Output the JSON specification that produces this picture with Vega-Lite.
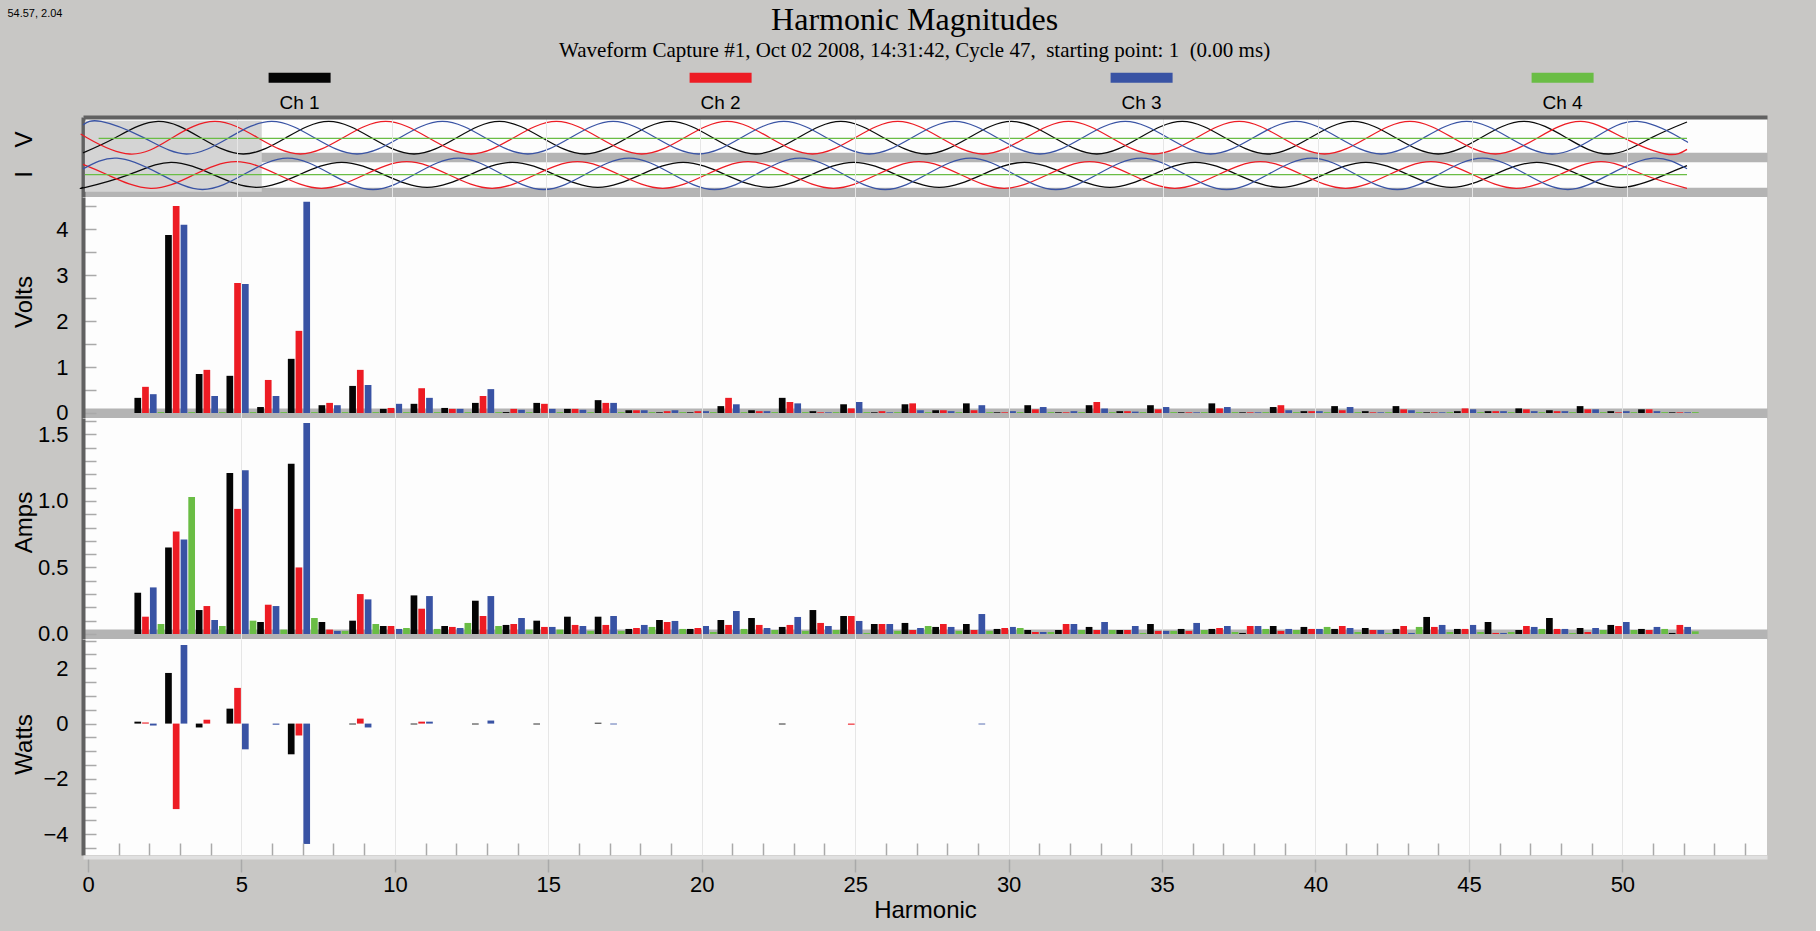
{
"$schema": "https://vega.github.io/schema/vega-lite/v6.json",
"background": "#c8c7c5",
"padding": {"left": 6, "top": 4, "right": 49, "bottom": 20},
"title": {"text": "Harmonic Magnitudes", "subtitle": "Waveform Capture #1, Oct 02 2008, 14:31:42, Cycle 47,\u00a0 starting point: 1\u00a0 (0.00 ms)", "anchor": "middle", "frame": "group", "font": "Liberation Serif", "fontSize": 32, "fontWeight": "normal", "color": "#000", "subtitleFont": "Liberation Serif", "subtitleFontSize": 21, "subtitleColor": "#000", "subtitlePadding": 3, "offset": -55.4, "dx": -10.4},
"datasets": {
"harm": [
{"h":2,"V1":0.33,"V2":0.57,"V3":0.41,"V4":0.02,"A1":0.31,"A2":0.13,"A3":0.35,"A4":0.075,"W1":0.07,"W2":0.04,"W3":-0.07},
{"h":3,"V1":3.88,"V2":4.51,"V3":4.10,"V4":0.02,"A1":0.65,"A2":0.77,"A3":0.71,"A4":1.03,"W1":1.83,"W2":-3.09,"W3":2.84},
{"h":4,"V1":0.85,"V2":0.94,"V3":0.37,"V4":0.02,"A1":0.18,"A2":0.21,"A3":0.105,"A4":0.06,"W1":-0.14,"W2":0.14,"W3":0},
{"h":5,"V1":0.81,"V2":2.83,"V3":2.81,"V4":0.02,"A1":1.21,"A2":0.94,"A3":1.23,"A4":0.10,"W1":0.54,"W2":1.29,"W3":-0.93},
{"h":6,"V1":0.13,"V2":0.72,"V3":0.37,"V4":0.02,"A1":0.09,"A2":0.22,"A3":0.21,"A4":0.033,"W1":0,"W2":0,"W3":-0.04},
{"h":7,"V1":1.18,"V2":1.79,"V3":4.60,"V4":0.02,"A1":1.28,"A2":0.50,"A3":1.585,"A4":0.12,"W1":-1.11,"W2":-0.43,"W3":-4.35},
{"h":8,"V1":0.17,"V2":0.22,"V3":0.17,"V4":0.02,"A1":0.09,"A2":0.033,"A3":0.023,"A4":0.023,"W1":0,"W2":0,"W3":0},
{"h":9,"V1":0.59,"V2":0.94,"V3":0.61,"V4":0.02,"A1":0.10,"A2":0.30,"A3":0.26,"A4":0.075,"W1":-0.03,"W2":0.18,"W3":-0.14},
{"h":10,"V1":0.09,"V2":0.11,"V3":0.20,"V4":0.02,"A1":0.06,"A2":0.06,"A3":0.038,"A4":0.045,"W1":0,"W2":0,"W3":0},
{"h":11,"V1":0.20,"V2":0.54,"V3":0.33,"V4":0.02,"A1":0.29,"A2":0.19,"A3":0.285,"A4":0.038,"W1":-0.03,"W2":0.07,"W3":0.07},
{"h":12,"V1":0.11,"V2":0.09,"V3":0.09,"V4":0.02,"A1":0.06,"A2":0.053,"A3":0.045,"A4":0.083,"W1":0,"W2":0,"W3":0},
{"h":13,"V1":0.22,"V2":0.37,"V3":0.52,"V4":0.02,"A1":0.25,"A2":0.135,"A3":0.285,"A4":0.06,"W1":-0.03,"W2":0,"W3":0.11},
{"h":14,"V1":0.02,"V2":0.09,"V3":0.07,"V4":0.02,"A1":0.068,"A2":0.075,"A3":0.12,"A4":0.033,"W1":0,"W2":0,"W3":0},
{"h":15,"V1":0.22,"V2":0.20,"V3":0.09,"V4":0.02,"A1":0.10,"A2":0.053,"A3":0.053,"A4":0.033,"W1":-0.03,"W2":0,"W3":0},
{"h":16,"V1":0.09,"V2":0.09,"V3":0.07,"V4":0.02,"A1":0.13,"A2":0.068,"A3":0.06,"A4":0.023,"W1":0,"W2":0,"W3":0},
{"h":17,"V1":0.28,"V2":0.22,"V3":0.22,"V4":0.02,"A1":0.13,"A2":0.068,"A3":0.135,"A4":0.023,"W1":0.03,"W2":0,"W3":-0.03},
{"h":18,"V1":0.06,"V2":0.06,"V3":0.06,"V4":0.02,"A1":0.038,"A2":0.045,"A3":0.068,"A4":0.053,"W1":0,"W2":0,"W3":0},
{"h":19,"V1":0.015,"V2":0.04,"V3":0.06,"V4":0.02,"A1":0.105,"A2":0.09,"A3":0.098,"A4":0.038,"W1":0,"W2":0,"W3":0},
{"h":20,"V1":0.015,"V2":0.04,"V3":0.04,"V4":0.02,"A1":0.038,"A2":0.045,"A3":0.06,"A4":0.015,"W1":0,"W2":0,"W3":0},
{"h":21,"V1":0.15,"V2":0.33,"V3":0.19,"V4":0.02,"A1":0.105,"A2":0.068,"A3":0.173,"A4":0.038,"W1":0,"W2":0,"W3":0},
{"h":22,"V1":0.06,"V2":0.04,"V3":0.04,"V4":0.02,"A1":0.12,"A2":0.068,"A3":0.045,"A4":0.03,"W1":0,"W2":0,"W3":0},
{"h":23,"V1":0.33,"V2":0.24,"V3":0.21,"V4":0.02,"A1":0.053,"A2":0.068,"A3":0.128,"A4":0.023,"W1":-0.03,"W2":0,"W3":0},
{"h":24,"V1":0.04,"V2":0.015,"V3":0.015,"V4":0.02,"A1":0.18,"A2":0.083,"A3":0.06,"A4":0.03,"W1":0,"W2":0,"W3":0},
{"h":25,"V1":0.19,"V2":0.10,"V3":0.24,"V4":0.02,"A1":0.135,"A2":0.135,"A3":0.098,"A4":0.008,"W1":0,"W2":-0.04,"W3":0},
{"h":26,"V1":0.015,"V2":0.04,"V3":0.015,"V4":0.02,"A1":0.075,"A2":0.075,"A3":0.075,"A4":0.023,"W1":0,"W2":0,"W3":0},
{"h":27,"V1":0.19,"V2":0.21,"V3":0.06,"V4":0.02,"A1":0.083,"A2":0.03,"A3":0.045,"A4":0.06,"W1":0,"W2":0,"W3":0},
{"h":28,"V1":0.06,"V2":0.06,"V3":0.04,"V4":0.02,"A1":0.053,"A2":0.075,"A3":0.053,"A4":0.023,"W1":0,"W2":0,"W3":0},
{"h":29,"V1":0.21,"V2":0.06,"V3":0.17,"V4":0.02,"A1":0.075,"A2":0.03,"A3":0.15,"A4":0.023,"W1":0,"W2":0,"W3":-0.03},
{"h":30,"V1":0.015,"V2":0.015,"V3":0.04,"V4":0.02,"A1":0.038,"A2":0.045,"A3":0.053,"A4":0.045,"W1":0,"W2":0,"W3":0},
{"h":31,"V1":0.17,"V2":0.08,"V3":0.13,"V4":0.02,"A1":0.03,"A2":0.015,"A3":0.015,"A4":0.015,"W1":0,"W2":0,"W3":0},
{"h":32,"V1":0.015,"V2":0.015,"V3":0.04,"V4":0.02,"A1":0.03,"A2":0.075,"A3":0.075,"A4":0.03,"W1":0,"W2":0,"W3":0},
{"h":33,"V1":0.17,"V2":0.24,"V3":0.10,"V4":0.02,"A1":0.053,"A2":0.03,"A3":0.09,"A4":0.03,"W1":0,"W2":0,"W3":0},
{"h":34,"V1":0.04,"V2":0.04,"V3":0.03,"V4":0.02,"A1":0.03,"A2":0.03,"A3":0.06,"A4":0.008,"W1":0,"W2":0,"W3":0},
{"h":35,"V1":0.17,"V2":0.08,"V3":0.13,"V4":0.02,"A1":0.075,"A2":0.023,"A3":0.023,"A4":0.023,"W1":0,"W2":0,"W3":0},
{"h":36,"V1":0.015,"V2":0.015,"V3":0.015,"V4":0.02,"A1":0.038,"A2":0.023,"A3":0.083,"A4":0.03,"W1":0,"W2":0,"W3":0},
{"h":37,"V1":0.21,"V2":0.10,"V3":0.13,"V4":0.02,"A1":0.038,"A2":0.045,"A3":0.06,"A4":0.015,"W1":0,"W2":0,"W3":0},
{"h":38,"V1":0.015,"V2":0.015,"V3":0.015,"V4":0.02,"A1":0.008,"A2":0.06,"A3":0.06,"A4":0.038,"W1":0,"W2":0,"W3":0},
{"h":39,"V1":0.13,"V2":0.17,"V3":0.06,"V4":0.02,"A1":0.06,"A2":0.023,"A3":0.038,"A4":0.03,"W1":0,"W2":0,"W3":0},
{"h":40,"V1":0.04,"V2":0.04,"V3":0.04,"V4":0.02,"A1":0.053,"A2":0.038,"A3":0.038,"A4":0.053,"W1":0,"W2":0,"W3":0},
{"h":41,"V1":0.15,"V2":0.06,"V3":0.13,"V4":0.02,"A1":0.038,"A2":0.06,"A3":0.045,"A4":0.015,"W1":0,"W2":0,"W3":0},
{"h":42,"V1":0.04,"V2":0.015,"V3":0.015,"V4":0.02,"A1":0.045,"A2":0.03,"A3":0.03,"A4":0.008,"W1":0,"W2":0,"W3":0},
{"h":43,"V1":0.15,"V2":0.08,"V3":0.06,"V4":0.02,"A1":0.038,"A2":0.06,"A3":0.008,"A4":0.053,"W1":0,"W2":0,"W3":0},
{"h":44,"V1":0.015,"V2":0.015,"V3":0.015,"V4":0.02,"A1":0.128,"A2":0.053,"A3":0.068,"A4":0.015,"W1":0,"W2":0,"W3":0},
{"h":45,"V1":0.04,"V2":0.10,"V3":0.08,"V4":0.02,"A1":0.038,"A2":0.038,"A3":0.068,"A4":0.015,"W1":0,"W2":0,"W3":0},
{"h":46,"V1":0.04,"V2":0.04,"V3":0.04,"V4":0.02,"A1":0.09,"A2":0.008,"A3":0.008,"A4":0.015,"W1":0,"W2":0,"W3":0},
{"h":47,"V1":0.10,"V2":0.08,"V3":0.04,"V4":0.02,"A1":0.03,"A2":0.06,"A3":0.053,"A4":0.038,"W1":0,"W2":0,"W3":0},
{"h":48,"V1":0.06,"V2":0.04,"V3":0.04,"V4":0.02,"A1":0.12,"A2":0.038,"A3":0.038,"A4":0.008,"W1":0,"W2":0,"W3":0},
{"h":49,"V1":0.15,"V2":0.08,"V3":0.08,"V4":0.02,"A1":0.045,"A2":0.015,"A3":0.045,"A4":0.03,"W1":0,"W2":0,"W3":0},
{"h":50,"V1":0.04,"V2":0.015,"V3":0.04,"V4":0.02,"A1":0.068,"A2":0.06,"A3":0.09,"A4":0.03,"W1":0,"W2":0,"W3":0},
{"h":51,"V1":0.08,"V2":0.08,"V3":0.04,"V4":0.02,"A1":0.038,"A2":0.03,"A3":0.053,"A4":0.038,"W1":0,"W2":0,"W3":0},
{"h":52,"V1":0.015,"V2":0.015,"V3":0.015,"V4":0.02,"A1":0.008,"A2":0.068,"A3":0.053,"A4":0.02,"W1":0,"W2":0,"W3":0}
],
"wave": [
{"s":"V1","t":0,"y":44.17},{"s":"V1","t":68.2,"y":59.3},{"s":"V1","t":158.2,"y":75.6},{"s":"V1","t":248.2,"y":59.3},{"s":"V1","t":338.2,"y":43.0},{"s":"V1","t":428.2,"y":59.3},{"s":"V1","t":518.2,"y":75.6},{"s":"V1","t":608.2,"y":59.3},{"s":"V1","t":698.2,"y":43.0},{"s":"V1","t":788.2,"y":59.3},{"s":"V1","t":878.2,"y":75.6},{"s":"V1","t":968.2,"y":59.3},{"s":"V1","t":1058.2,"y":43.0},{"s":"V1","t":1148.2,"y":59.3},{"s":"V1","t":1238.2,"y":75.6},{"s":"V1","t":1328.2,"y":59.3},{"s":"V1","t":1418.2,"y":43.0},{"s":"V1","t":1508.2,"y":59.3},{"s":"V1","t":1598.2,"y":75.6},{"s":"V1","t":1688.2,"y":59.3},{"s":"V1","t":1778.2,"y":43.0},{"s":"V1","t":1868.2,"y":59.3},{"s":"V1","t":1958.2,"y":75.6},{"s":"V1","t":2048.2,"y":59.3},{"s":"V1","t":2138.2,"y":43.0},{"s":"V1","t":2228.2,"y":59.3},{"s":"V1","t":2318.2,"y":75.6},{"s":"V1","t":2408.2,"y":59.3},{"s":"V1","t":2498.2,"y":43.0},{"s":"V1","t":2588.2,"y":59.3},{"s":"V1","t":2678.2,"y":75.6},{"s":"V1","t":2768.2,"y":59.3},{"s":"V1","t":2858.2,"y":43.0},{"s":"V1","t":2948.2,"y":59.3},{"s":"V1","t":3038.2,"y":75.6},{"s":"V1","t":3128.2,"y":59.3},{"s":"V1","t":3218.2,"y":43.0},{"s":"V1","t":3308.2,"y":59.3},{"s":"V1","t":3382.8,"y":75.0},
{"s":"V2","t":0,"y":61.68},{"s":"V2","t":8.4,"y":59.3},{"s":"V2","t":98.4,"y":43.0},{"s":"V2","t":188.4,"y":59.3},{"s":"V2","t":278.4,"y":75.6},{"s":"V2","t":368.4,"y":59.3},{"s":"V2","t":458.4,"y":43.0},{"s":"V2","t":548.4,"y":59.3},{"s":"V2","t":638.4,"y":75.6},{"s":"V2","t":728.4,"y":59.3},{"s":"V2","t":818.4,"y":43.0},{"s":"V2","t":908.4,"y":59.3},{"s":"V2","t":998.4,"y":75.6},{"s":"V2","t":1088.4,"y":59.3},{"s":"V2","t":1178.4,"y":43.0},{"s":"V2","t":1268.4,"y":59.3},{"s":"V2","t":1358.4,"y":75.6},{"s":"V2","t":1448.4,"y":59.3},{"s":"V2","t":1538.4,"y":43.0},{"s":"V2","t":1628.4,"y":59.3},{"s":"V2","t":1718.4,"y":75.6},{"s":"V2","t":1808.4,"y":59.3},{"s":"V2","t":1898.4,"y":43.0},{"s":"V2","t":1988.4,"y":59.3},{"s":"V2","t":2078.4,"y":75.6},{"s":"V2","t":2168.4,"y":59.3},{"s":"V2","t":2258.4,"y":43.0},{"s":"V2","t":2348.4,"y":59.3},{"s":"V2","t":2438.4,"y":75.6},{"s":"V2","t":2528.4,"y":59.3},{"s":"V2","t":2618.4,"y":43.0},{"s":"V2","t":2708.4,"y":59.3},{"s":"V2","t":2798.4,"y":75.6},{"s":"V2","t":2888.4,"y":59.3},{"s":"V2","t":2978.4,"y":43.0},{"s":"V2","t":3068.4,"y":59.3},{"s":"V2","t":3158.4,"y":75.6},{"s":"V2","t":3248.4,"y":59.3},{"s":"V2","t":3338.4,"y":43.0},{"s":"V2","t":3382.8,"y":47.65},
{"s":"V3","t":0,"y":72.14},{"s":"V3","t":38,"y":75.6},{"s":"V3","t":128,"y":59.3},{"s":"V3","t":218,"y":43.0},{"s":"V3","t":308,"y":59.3},{"s":"V3","t":398,"y":75.6},{"s":"V3","t":488,"y":59.3},{"s":"V3","t":578,"y":43.0},{"s":"V3","t":668,"y":59.3},{"s":"V3","t":758,"y":75.6},{"s":"V3","t":848,"y":59.3},{"s":"V3","t":938,"y":43.0},{"s":"V3","t":1028,"y":59.3},{"s":"V3","t":1118,"y":75.6},{"s":"V3","t":1208,"y":59.3},{"s":"V3","t":1298,"y":43.0},{"s":"V3","t":1388,"y":59.3},{"s":"V3","t":1478,"y":75.6},{"s":"V3","t":1568,"y":59.3},{"s":"V3","t":1658,"y":43.0},{"s":"V3","t":1748,"y":59.3},{"s":"V3","t":1838,"y":75.6},{"s":"V3","t":1928,"y":59.3},{"s":"V3","t":2018,"y":43.0},{"s":"V3","t":2108,"y":59.3},{"s":"V3","t":2198,"y":75.6},{"s":"V3","t":2288,"y":59.3},{"s":"V3","t":2378,"y":43.0},{"s":"V3","t":2468,"y":59.3},{"s":"V3","t":2558,"y":75.6},{"s":"V3","t":2648,"y":59.3},{"s":"V3","t":2738,"y":43.0},{"s":"V3","t":2828,"y":59.3},{"s":"V3","t":2918,"y":75.6},{"s":"V3","t":3008,"y":59.3},{"s":"V3","t":3098,"y":43.0},{"s":"V3","t":3188,"y":59.3},{"s":"V3","t":3278,"y":75.6},{"s":"V3","t":3368,"y":59.3},{"s":"V3","t":3382.8,"y":55.14},
{"s":"V4","t":33,"y":58.7},{"s":"V4","t":3382.8,"y":58.7},
{"s":"I1","t":0,"y":9.76},{"s":"I1","t":5.6,"y":9.7},{"s":"I1","t":95.6,"y":22.2},{"s":"I1","t":185.6,"y":34.7},{"s":"I1","t":275.6,"y":22.2},{"s":"I1","t":365.6,"y":9.7},{"s":"I1","t":455.6,"y":22.2},{"s":"I1","t":545.6,"y":34.7},{"s":"I1","t":635.6,"y":22.2},{"s":"I1","t":725.6,"y":9.7},{"s":"I1","t":815.6,"y":22.2},{"s":"I1","t":905.6,"y":34.7},{"s":"I1","t":995.6,"y":22.2},{"s":"I1","t":1085.6,"y":9.7},{"s":"I1","t":1175.6,"y":22.2},{"s":"I1","t":1265.6,"y":34.7},{"s":"I1","t":1355.6,"y":22.2},{"s":"I1","t":1445.6,"y":9.7},{"s":"I1","t":1535.6,"y":22.2},{"s":"I1","t":1625.6,"y":34.7},{"s":"I1","t":1715.6,"y":22.2},{"s":"I1","t":1805.6,"y":9.7},{"s":"I1","t":1895.6,"y":22.2},{"s":"I1","t":1985.6,"y":34.7},{"s":"I1","t":2075.6,"y":22.2},{"s":"I1","t":2165.6,"y":9.7},{"s":"I1","t":2255.6,"y":22.2},{"s":"I1","t":2345.6,"y":34.7},{"s":"I1","t":2435.6,"y":22.2},{"s":"I1","t":2525.6,"y":9.7},{"s":"I1","t":2615.6,"y":22.2},{"s":"I1","t":2705.6,"y":34.7},{"s":"I1","t":2795.6,"y":22.2},{"s":"I1","t":2885.6,"y":9.7},{"s":"I1","t":2975.6,"y":22.2},{"s":"I1","t":3065.6,"y":34.7},{"s":"I1","t":3155.6,"y":22.2},{"s":"I1","t":3245.6,"y":9.7},{"s":"I1","t":3335.6,"y":22.2},{"s":"I1","t":3382.8,"y":31.37},
{"s":"I2","t":0,"y":32.58},{"s":"I2","t":52.7,"y":22.0},{"s":"I2","t":142.7,"y":8.7},{"s":"I2","t":232.7,"y":22.0},{"s":"I2","t":322.7,"y":35.3},{"s":"I2","t":412.7,"y":22.0},{"s":"I2","t":502.7,"y":8.7},{"s":"I2","t":592.7,"y":22.0},{"s":"I2","t":682.7,"y":35.3},{"s":"I2","t":772.7,"y":22.0},{"s":"I2","t":862.7,"y":8.7},{"s":"I2","t":952.7,"y":22.0},{"s":"I2","t":1042.7,"y":35.3},{"s":"I2","t":1132.7,"y":22.0},{"s":"I2","t":1222.7,"y":8.7},{"s":"I2","t":1312.7,"y":22.0},{"s":"I2","t":1402.7,"y":35.3},{"s":"I2","t":1492.7,"y":22.0},{"s":"I2","t":1582.7,"y":8.7},{"s":"I2","t":1672.7,"y":22.0},{"s":"I2","t":1762.7,"y":35.3},{"s":"I2","t":1852.7,"y":22.0},{"s":"I2","t":1942.7,"y":8.7},{"s":"I2","t":2032.7,"y":22.0},{"s":"I2","t":2122.7,"y":35.3},{"s":"I2","t":2212.7,"y":22.0},{"s":"I2","t":2302.7,"y":8.7},{"s":"I2","t":2392.7,"y":22.0},{"s":"I2","t":2482.7,"y":35.3},{"s":"I2","t":2572.7,"y":22.0},{"s":"I2","t":2662.7,"y":8.7},{"s":"I2","t":2752.7,"y":22.0},{"s":"I2","t":2842.7,"y":35.3},{"s":"I2","t":2932.7,"y":22.0},{"s":"I2","t":3022.7,"y":8.7},{"s":"I2","t":3112.7,"y":22.0},{"s":"I2","t":3202.7,"y":35.3},{"s":"I2","t":3292.7,"y":22.0},{"s":"I2","t":3382.7,"y":8.7},
{"s":"I3","t":0,"y":28.13},{"s":"I3","t":71.7,"y":38.9},{"s":"I3","t":161.7,"y":23.2},{"s":"I3","t":251.7,"y":7.5},{"s":"I3","t":341.7,"y":23.2},{"s":"I3","t":431.7,"y":38.9},{"s":"I3","t":521.7,"y":23.2},{"s":"I3","t":611.7,"y":7.5},{"s":"I3","t":701.7,"y":23.2},{"s":"I3","t":791.7,"y":38.9},{"s":"I3","t":881.7,"y":23.2},{"s":"I3","t":971.7,"y":7.5},{"s":"I3","t":1061.7,"y":23.2},{"s":"I3","t":1151.7,"y":38.9},{"s":"I3","t":1241.7,"y":23.2},{"s":"I3","t":1331.7,"y":7.5},{"s":"I3","t":1421.7,"y":23.2},{"s":"I3","t":1511.7,"y":38.9},{"s":"I3","t":1601.7,"y":23.2},{"s":"I3","t":1691.7,"y":7.5},{"s":"I3","t":1781.7,"y":23.2},{"s":"I3","t":1871.7,"y":38.9},{"s":"I3","t":1961.7,"y":23.2},{"s":"I3","t":2051.7,"y":7.5},{"s":"I3","t":2141.7,"y":23.2},{"s":"I3","t":2231.7,"y":38.9},{"s":"I3","t":2321.7,"y":23.2},{"s":"I3","t":2411.7,"y":7.5},{"s":"I3","t":2501.7,"y":23.2},{"s":"I3","t":2591.7,"y":38.9},{"s":"I3","t":2681.7,"y":23.2},{"s":"I3","t":2771.7,"y":7.5},{"s":"I3","t":2861.7,"y":23.2},{"s":"I3","t":2951.7,"y":38.9},{"s":"I3","t":3041.7,"y":23.2},{"s":"I3","t":3131.7,"y":7.5},{"s":"I3","t":3221.7,"y":23.2},{"s":"I3","t":3311.7,"y":38.9},{"s":"I3","t":3382.8,"y":28.29},
{"s":"I4","t":4,"y":22.3},{"s":"I4","t":3382.8,"y":22.3}
]
},
"spacing": 0,
"bounds": "flush",
"resolve": {"scale": {"x": "independent", "y": "independent", "color": "shared"}},
"vconcat": [
{
"width": 1684, "height": 80,
"encoding": {
  "x": {"field": "t", "type": "quantitative", "scale": {"domain": [0, 3551.5], "nice": false, "zero": false},
        "axis": {"orient": "top", "values": [325.5, 651.1, 976.6, 1302.1, 1627.7, 1953.2, 2278.7, 2604.2, 2929.8, 3255.3], "grid": true, "gridColor": "#e6e6e6", "labels": false, "ticks": false, "domain": true, "domainColor": "#616161", "domainWidth": 4, "title": null, "zindex": 1}},
  "y": {"field": "y", "type": "quantitative", "scale": {"domain": [0, 80], "nice": false, "zero": false},
        "axis": {"orient": "left", "values": [4.85, 23, 40.5, 58], "labelExpr": "datum.value === 58 ? 'V' : (datum.value === 23 ? 'I' : '')", "labelOverlap": false,
                 "labelFontSize": {"condition": {"test": "datum.value === 58 || datum.value === 23", "value": 24}, "value": 1},
                 "grid": true, "gridColor": "#b4b4b4", "gridWidth": 9.7, "gridOpacity": {"condition": {"test": "datum.value === 4.85 || datum.value === 40.5", "value": 1}, "value": 0},
                 "ticks": false, "domain": true, "domainColor": "#616161", "domainWidth": 4, "labelAngle": 270, "labelAlign": "center", "labelBaseline": "middle", "labelPadding": 58.8,
                 "title": "54.57, 2.04", "titleAngle": 0, "titleFontSize": 11, "titleAlign": "left", "titleBaseline": "top", "titleX": -76.1, "titleY": -110, "zindex": 0}}
},
"layer": [
{"data": {"values": [{"cycle": 47, "t": 4, "t2": 377, "y": 5.3, "y2": 76.3}]}, "mark": {"type": "rect", "color": "#d4d4d4"}, "encoding": {"x2": {"field": "t2"}, "y2": {"field": "y2"}}},
{"data": {"name": "wave"}, "mark": {"type": "line", "interpolate": "natural", "strokeWidth": 1.3},
 "encoding": {"stroke": {"field": "s", "type": "nominal", "scale": {"domain": ["V1","V2","V3","V4","I1","I2","I3","I4"], "range": ["#0a0a0a","#ed1c24","#3953a4","#6abd45","#0a0a0a","#ed1c24","#3953a4","#6abd45"]}, "legend": null}}}
]
},
{
"width": 1684, "height": 221,
"data": {"name": "harm"},
"transform": [{"fold": ["V1","V2","V3","V4"], "as": ["ch","v"]}],
"encoding": {
  "x": {"field": "h", "type": "quantitative", "scale": {"domain": [0, 54.55], "nice": false, "zero": false},
        "axis": {"values": [5,10,15,20,25,30,35,40,45,50], "grid": true, "gridColor": "#e6e6e6", "labels": false, "ticks": false, "domain": false, "title": null, "zindex": 1}},
  "y": {"field": "v", "type": "quantitative", "scale": {"domain": [-0.109, 4.706], "nice": false, "zero": false},
        "axis": {"title": "Volts", "values": [0,0.5,1,1.5,2,2.5,3,3.5,4,4.5], "labelExpr": "datum.value % 1 === 0 ? format(datum.value, 'd') : ''", "labelOverlap": false,
                 "labelFontSize": {"condition": {"test": "datum.value % 1 === 0", "value": 22}, "value": 1},
                 "grid": true, "gridColor": "#b4b4b4", "gridWidth": 10, "gridOpacity": {"condition": {"test": "datum.value === 0", "value": 1}, "value": 0},
                 "tickSize": -13, "tickColor": "#a9a9a9", "tickWidth": 1.5, "labelPadding": 28, "domainColor": "#616161", "domainWidth": 4, "titleAngle": 270, "titleAlign": "center", "titleBaseline": "middle", "titleX": -59, "titleY": 104.5, "zindex": 0}}
},
"layer": [
{"transform": [{"filter": "datum.ch === 'V1'"}], "mark": {"type": "bar", "orient": "vertical", "width": 6.7, "xOffset": -11.6},
 "encoding": {"color": {"datum": "Ch 1", "type": "nominal", "scale": {"domain": ["Ch 1","Ch 2","Ch 3","Ch 4"], "range": ["#050505","#ed1c24","#3953a4","#6abd45"]},
   "legend": {"orient": "none", "legendX": 185.6, "legendY": -45.3, "direction": "horizontal", "columns": 4, "columnPadding": 359, "rowPadding": 0, "padding": 0, "title": null, "symbolType": "M-1,-0.968H1V-0.645H-1Z", "symbolSize": 3844, "symbolStrokeWidth": 0, "symbolOpacity": 1, "labelOffset": -31, "labelAlign": "center", "labelBaseline": "middle", "labelFont": "Liberation Sans", "labelFontSize": 19, "labelColor": "#000"}}}},
{"transform": [{"filter": "datum.ch === 'V2'"}], "mark": {"type": "bar", "orient": "vertical", "width": 6.7, "xOffset": -3.9}, "encoding": {"color": {"datum": "Ch 2", "type": "nominal"}}},
{"transform": [{"filter": "datum.ch === 'V3'"}], "mark": {"type": "bar", "orient": "vertical", "width": 6.7, "xOffset": 3.9}, "encoding": {"color": {"datum": "Ch 3", "type": "nominal"}}},
{"transform": [{"filter": "datum.ch === 'V4'"}], "mark": {"type": "bar", "orient": "vertical", "width": 6.7, "xOffset": 11.6}, "encoding": {"color": {"datum": "Ch 4", "type": "nominal"}}}
]
},
{
"width": 1684, "height": 221,
"data": {"name": "harm"},
"transform": [{"fold": ["A1","A2","A3","A4"], "as": ["ch","v"]}],
"encoding": {
  "x": {"field": "h", "type": "quantitative", "scale": {"domain": [0, 54.55], "nice": false, "zero": false},
        "axis": {"values": [5,10,15,20,25,30,35,40,45,50], "grid": true, "gridColor": "#e6e6e6", "labels": false, "ticks": false, "domain": false, "title": null, "zindex": 1}},
  "y": {"field": "v", "type": "quantitative", "scale": {"domain": [-0.0376, 1.6228], "nice": false, "zero": false},
        "axis": {"title": "Amps", "values": [0,0.1,0.2,0.3,0.4,0.5,0.6,0.7,0.8,0.9,1,1.1,1.2,1.3,1.4,1.5,1.6], "labelExpr": "(datum.value * 10) % 5 === 0 ? format(datum.value, '.1f') : ''", "labelOverlap": false,
                 "labelFontSize": {"condition": {"test": "(datum.value * 10) % 5 === 0", "value": 22}, "value": 1},
                 "grid": true, "gridColor": "#b4b4b4", "gridWidth": 10, "gridOpacity": {"condition": {"test": "datum.value === 0", "value": 1}, "value": 0},
                 "tickSize": -13, "tickColor": "#a9a9a9", "tickWidth": 1.5, "labelPadding": 28, "domainColor": "#616161", "domainWidth": 4, "titleAngle": 270, "titleAlign": "center", "titleBaseline": "middle", "titleX": -59, "titleY": 104, "zindex": 0}}
},
"layer": [
{"transform": [{"filter": "datum.ch === 'A1'"}], "mark": {"type": "bar", "orient": "vertical", "width": 6.7, "xOffset": -11.6}, "encoding": {"color": {"datum": "Ch 1", "type": "nominal"}}},
{"transform": [{"filter": "datum.ch === 'A2'"}], "mark": {"type": "bar", "orient": "vertical", "width": 6.7, "xOffset": -3.9}, "encoding": {"color": {"datum": "Ch 2", "type": "nominal"}}},
{"transform": [{"filter": "datum.ch === 'A3'"}], "mark": {"type": "bar", "orient": "vertical", "width": 6.7, "xOffset": 3.9}, "encoding": {"color": {"datum": "Ch 3", "type": "nominal"}}},
{"transform": [{"filter": "datum.ch === 'A4'"}], "mark": {"type": "bar", "orient": "vertical", "width": 6.7, "xOffset": 11.6}, "encoding": {"color": {"datum": "Ch 4", "type": "nominal"}}}
]
},
{
"width": 1684, "height": 216,
"data": {"name": "harm"},
"transform": [{"fold": ["W1","W2","W3"], "as": ["ch","v"]}],
"encoding": {
  "x": {"field": "h", "type": "quantitative", "scale": {"domain": [0, 54.55], "nice": false, "zero": false},
        "axis": {"title": "Harmonic", "values": [0,1,2,3,4,5,6,7,8,9,10,11,12,13,14,15,16,17,18,19,20,21,22,23,24,25,26,27,28,29,30,31,32,33,34,35,36,37,38,39,40,41,42,43,44,45,46,47,48,49,50,51,52,53,54],
                 "labelExpr": "datum.value % 5 === 0 ? format(datum.value, 'd') : ''", "labelFlush": false, "labelOverlap": false,
                 "labelFontSize": {"condition": {"test": "datum.value % 5 === 0", "value": 22}, "value": 1},
                 "tickSize": {"condition": {"test": "datum.value % 5 === 0", "value": 15}, "value": -14}, "tickColor": "#a9a9a9", "tickWidth": 1.5,
                 "grid": true, "gridColor": "#e6e6e6", "gridOpacity": {"condition": {"test": "datum.value % 5 === 0 && datum.value > 0", "value": 1}, "value": 0},
                 "domain": true, "domainColor": "#e0e0e0", "domainWidth": 4, "offset": 2, "labelPadding": 2, "titlePadding": 3, "zindex": 1}},
  "y": {"field": "v", "type": "quantitative", "scale": {"domain": [-4.749, 3.057], "nice": false, "zero": false},
        "axis": {"title": "Watts", "values": [-4.5,-4,-3.5,-3,-2.5,-2,-1.5,-1,-0.5,0,0.5,1,1.5,2,2.5,3], "labelExpr": "datum.value % 2 === 0 ? format(datum.value, 'd') : ''", "labelOverlap": false,
                 "labelFontSize": {"condition": {"test": "datum.value % 2 === 0", "value": 22}, "value": 1},
                 "grid": false, "tickSize": -13, "tickColor": "#a9a9a9", "tickWidth": 1.5, "labelPadding": 28, "domainColor": "#616161", "domainWidth": 4, "titleAngle": 270, "titleAlign": "center", "titleBaseline": "middle", "titleX": -59, "titleY": 105, "zindex": 0}}
},
"layer": [
{"transform": [{"filter": "datum.ch === 'W1'"}], "mark": {"type": "bar", "orient": "vertical", "width": 6.7, "xOffset": -11.6}, "encoding": {"color": {"datum": "Ch 1", "type": "nominal"}}},
{"transform": [{"filter": "datum.ch === 'W2'"}], "mark": {"type": "bar", "orient": "vertical", "width": 6.7, "xOffset": -3.9}, "encoding": {"color": {"datum": "Ch 2", "type": "nominal"}}},
{"transform": [{"filter": "datum.ch === 'W3'"}], "mark": {"type": "bar", "orient": "vertical", "width": 6.7, "xOffset": 3.9}, "encoding": {"color": {"datum": "Ch 3", "type": "nominal"}}}
]
}
],
"config": {
 "view": {"fill": "#fdfdfd", "stroke": null},
 "axis": {"labelFont": "Liberation Sans", "titleFont": "Liberation Sans", "labelColor": "#000", "titleColor": "#000", "titleFontWeight": "normal", "labelFontSize": 22, "titleFontSize": 24, "labelOverlap": false}
}
}
